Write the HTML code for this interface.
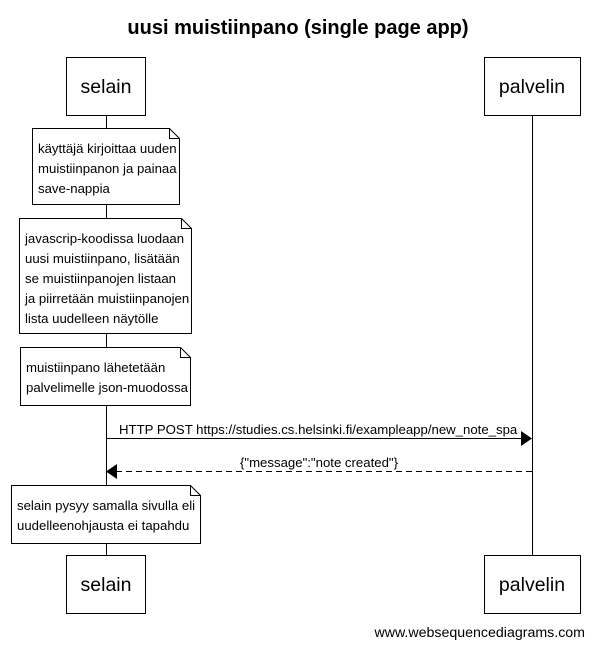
<!DOCTYPE html>
<html><head><meta charset="utf-8"><style>
html,body{margin:0;padding:0;background:#fff;}
svg{display:block;}
text{font-family:"Liberation Sans",Arial,sans-serif;fill:#000;}
</style></head><body>
<svg width="594" height="647" viewBox="0 0 594 647" xmlns="http://www.w3.org/2000/svg">
<text x="298" y="34" font-size="20" font-weight="bold" text-anchor="middle">uusi muistiinpano (single page app)</text>
<g stroke="#000" stroke-width="1" fill="#fff">
<line x1="106.5" y1="115" x2="106.5" y2="556"/>
<line x1="532.5" y1="115" x2="532.5" y2="556"/>
<rect x="66.5" y="57.5" width="79" height="58"/>
<rect x="484.5" y="57.5" width="96" height="58"/>
<rect x="66.5" y="555.5" width="79" height="58"/>
<rect x="484.5" y="555.5" width="96" height="58"/>
<path d="M32.5 128.5 H169.5 L179.5 138.5 V204.5 H32.5 Z M169.5 128.5 V138.5 H179.5"/>
<path d="M19.5 218.5 H181.5 L191.5 228.5 V333.5 H19.5 Z M181.5 218.5 V228.5 H191.5"/>
<path d="M20.5 347.5 H180.5 L190.5 357.5 V405.5 H20.5 Z M180.5 347.5 V357.5 H190.5"/>
<path d="M11.5 485.5 H190.5 L200.5 495.5 V543.5 H11.5 Z M190.5 485.5 V495.5 H200.5"/>
<line x1="106" y1="438.5" x2="522" y2="438.5"/>
<line x1="116" y1="471.5" x2="532" y2="471.5" stroke-dasharray="6,4"/>
</g>
<polygon points="532,438.5 521,431 521,446" fill="#000"/>
<polygon points="106,471.5 117,464 117,479" fill="#000"/>
<g font-size="19.5" text-anchor="middle">
<text x="106" y="93">selain</text>
<text x="532" y="93">palvelin</text>
<text x="106" y="591">selain</text>
<text x="532" y="591">palvelin</text>
</g>
<g font-size="13.2">
<text x="38" y="153">käyttäjä kirjoittaa uuden</text>
<text x="38" y="173">muistiinpanon ja painaa</text>
<text x="38" y="193">save-nappia</text>
<text x="25" y="243">javascrip-koodissa luodaan</text>
<text x="25" y="263">uusi muistiinpano, lisätään</text>
<text x="25" y="283">se muistiinpanojen listaan</text>
<text x="25" y="303">ja piirretään muistiinpanojen</text>
<text x="25" y="323">lista uudelleen näytölle</text>
<text x="26" y="372">muistiinpano lähetetään</text>
<text x="26" y="392">palvelimelle json-muodossa</text>
<text x="17" y="510">selain pysyy samalla sivulla eli</text>
<text x="17" y="530">uudelleenohjausta ei tapahdu</text>
<text x="119" y="434">HTTP POST https://studies.cs.helsinki.fi/exampleapp/new_note_spa</text>
<text x="319" y="467" text-anchor="middle">{"message":"note created"}</text>
<text x="585" y="637" font-size="14.2" text-anchor="end">www.websequencediagrams.com</text>
</g>
</svg>
</body></html>
